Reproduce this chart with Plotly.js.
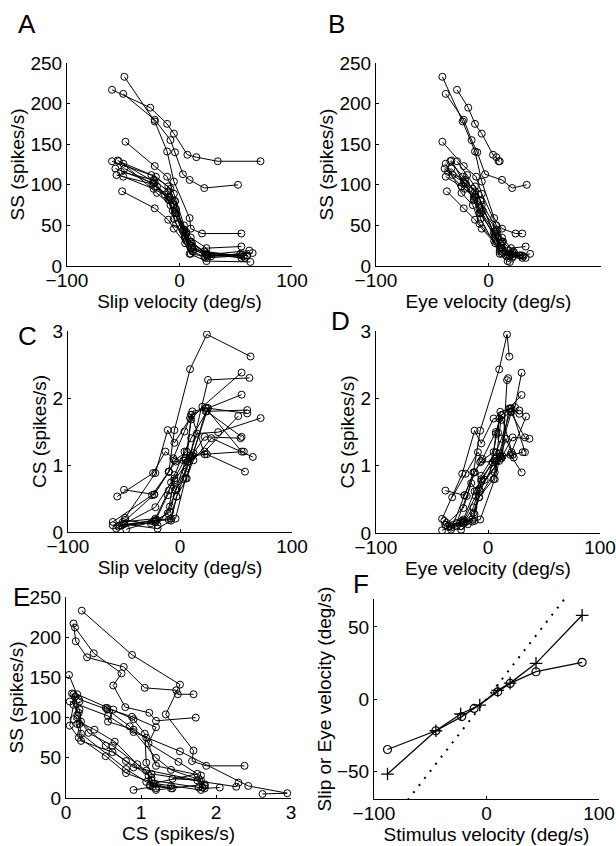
<!DOCTYPE html>
<html>
<head>
<meta charset="utf-8">
<script src="https://cdn.plot.ly/plotly-3.0.1.min.js"></script>
<style>html,body{margin:0;padding:0;background:#fff;}#chart{width:616px;height:846px;}</style>
</head>
<body>
<div id="chart"></div>
<script>
// Per-cell data (one inner list per Purkinje cell)
const slipVel = [
  [-60,-26,-11,-5,7,15,34,72],
  [-50,-22,-8,-4,3,9,22,52],
  [-49,-22,-11,-5,9,10,20,55],
  [-48,-22,-11,-5,4,10,24,55],
  [-60,-25,-10,-4,3,9,25,62],
  [-57,-23,-10,-5,9,24,63],
  [-55,-22,-9,-4,5,11,25,55],
  [-50,-20,-8,-3,6,12,23,60],
  [-51,-22,-10,-5,5,10,22,54],
  [-56,-24,-13,-6,4,10,22,57],
  [-50,-23,-10,-5,6,11,24,60],
  [-54,-21,-8,-3,5,10,23,55],
  [-49,-20,-9,-3,6,11,24,58],
  [-52,-23,-10,-4,5,12,28,65]
];
const eyeVel = [
  [-28,-18,-12,-6,4,7,9,10],
  [-38,-22,-15,-10,-3,12,21,34],
  [-41,-23,-12,-6,5,12,24,30],
  [-41,-22,-11,-6,7,12,20,33],
  [-28,-19,-12,-7,8,13,17,18],
  [-33,-21,-13,-7,10,17,19],
  [-33,-22,-13,-7,6,11,19,30],
  [-38,-24,-14,-8,5,10,21,28],
  [-37,-22,-12,-6,6,12,22,37],
  [-32,-20,-9,-5,7,12,22,31],
  [-38,-21,-12,-6,5,11,20,28],
  [-34,-23,-14,-8,6,12,21,33],
  [-39,-24,-13,-8,5,11,20,30],
  [-36,-21,-12,-7,6,10,16,23]
];
const ssRate = [
  [217,195,175,163,137,134,129,129],
  [212,180,155,140,113,106,96,100],
  [233,178,141,104,59,46,40,40],
  [153,123,110,89,50,35,22,24],
  [129,112,98,80,44,30,14,19],
  [120,102,82,58,15,6,5],
  [130,103,81,65,34,22,12,13],
  [126,90,75,52,31,18,10,13],
  [92,71,57,46,28,15,12,15],
  [112,101,88,68,45,30,18,12],
  [110,95,85,75,40,28,15,13],
  [129,110,95,65,38,22,17,10],
  [120,98,85,70,42,25,14,10],
  [116,106,92,80,36,20,12,16]
];
const csRate = [
  [0.10,0.13,0.28,0.77,1.05,1.47,1.49,1.70],
  [0.12,0.37,0.74,0.63,0.79,1.11,1.20,1.73],
  [0.21,0.88,1.52,1.33,1.70,1.68,1.87,2.38],
  [0.04,0.17,0.55,0.85,1.20,1.40,1.80,1.42],
  [0.15,0.55,0.90,1.05,1.07,1.14,2.27,2.30],
  [0.05,0.56,0.90,1.52,2.43,2.95,2.62],
  [0.08,0.15,0.30,0.62,1.07,1.14,1.85,2.05],
  [0.12,0.05,0.17,0.53,0.80,1.18,1.80,1.82],
  [0.15,0.20,0.62,0.80,1.10,1.12,1.42,1.40],
  [0.53,0.88,1.20,1.10,1.50,1.75,1.16,1.20],
  [0.63,0.56,0.90,1.07,1.20,1.80,1.85,1.77],
  [0.10,0.18,0.20,0.53,0.90,1.75,1.85,1.20],
  [0.18,0.10,0.38,0.65,0.95,1.14,1.16,0.90],
  [0.10,0.17,0.18,0.20,0.80,1.07,1.40,1.12]
];
// Panel F: population averages vs stimulus velocity
const stimEye  = [-88,-45,-22,-11,10,21,44,85];
const meanEye  = [-35,-22,-12.2,-6.5,5,10.8,18.9,25.4];
const stimSlip = [-88,-45,-23,-6,10,21,44,85];
const meanSlip = [-52,-22,-10.4,-4.2,6,11,24.7,58];
const unityX = [-70,70];
const unityY = [-70,70];

const W = 616, H = 846;
const FONT = 'Liberation Sans, Arial, Helvetica, sans-serif';
const FS = 19;
const black = '#000';

function dom(x0,x1,y0,y1){ return {x:[x0/W,x1/W], y:[1-y1/H,1-y0/H]}; }
const P = {
  A: dom(67,292,63,266),
  B: dom(376,601,63,266),
  C: dom(68,292,331,532),
  D: dom(376,600,331,533),
  E: dom(66,291,597,798),
  F: dom(374,599,599,799)
};

const traces = [];
function addCells(xs, ys, xa, ya){
  for(let i=0;i<xs.length;i++){
    traces.push({
      x: xs[i], y: ys[i], xaxis: xa, yaxis: ya,
      type:'scatter', mode:'lines+markers', showlegend:false, hoverinfo:'skip',
      line:{color:black, width:1},
      marker:{symbol:'circle-open', size:7, color:black, line:{width:1, color:black}}
    });
  }
}
addCells(slipVel, ssRate, 'x', 'y');
addCells(eyeVel, ssRate, 'x2', 'y2');
addCells(slipVel, csRate, 'x3', 'y3');
addCells(eyeVel, csRate, 'x4', 'y4');
addCells(csRate, ssRate, 'x5', 'y5');

traces.push({x:unityX, y:unityY, xaxis:'x6', yaxis:'y6', type:'scatter', mode:'lines', showlegend:false,
  line:{color:black, width:2, dash:'2px,7px'}, hoverinfo:'skip'});
traces.push({x:stimEye, y:meanEye, xaxis:'x6', yaxis:'y6', type:'scatter', mode:'lines+markers', showlegend:false,
  line:{color:black, width:1.3}, marker:{symbol:'circle-open', size:8, color:black, line:{width:1.2,color:black}}, hoverinfo:'skip'});
traces.push({x:stimSlip, y:meanSlip, xaxis:'x6', yaxis:'y6', type:'scatter', mode:'lines+markers', showlegend:false,
  line:{color:black, width:1.3}, marker:{symbol:'cross-thin-open', size:9, color:black, line:{width:1.3,color:black}}, hoverinfo:'skip'});

function ax(domain, range, tickvals, title, anchor, isX, tstand){
  return {
    domain: domain, range: range, anchor: anchor,
    tickmode:'array', tickvals: tickvals,
    showline:true, linecolor:black, linewidth:1, mirror:false,
    ticks:'inside', ticklen:3, tickcolor:black,
    showgrid:false, zeroline:false,
    ticklabelstandoff: isX ? -3 : 0,
    tickfont:{family:FONT, size:FS, color:black},
    title:{text:title, font:{family:FONT, size:FS, color:black}, standoff: tstand}
  };
}
const layout = {
  width:W, height:H, margin:{l:0,r:0,t:0,b:0},
  paper_bgcolor:'#fff', plot_bgcolor:'rgba(0,0,0,0)',
  font:{family:FONT, color:black},
  xaxis:  ax(P.A.x, [-100,100], [-100,0,100], 'Slip velocity (deg/s)', 'y', true, 0),
  yaxis:  ax(P.A.y, [0,250], [0,50,100,150,200,250], 'SS (spikes/s)', 'x', false, 0),
  xaxis2: ax(P.B.x, [-100,100], [-100,0,100], 'Eye velocity (deg/s)', 'y2', true, 0),
  yaxis2: ax(P.B.y, [0,250], [0,50,100,150,200,250], 'SS (spikes/s)', 'x2', false, 0),
  xaxis3: ax(P.C.x, [-100,100], [-100,0,100], 'Slip velocity (deg/s)', 'y3', true, 0),
  yaxis3: ax(P.C.y, [0,3], [0,1,2,3], 'CS (spikes/s)', 'x3', false, 0),
  xaxis4: ax(P.D.x, [-100,100], [-100,0,100], 'Eye velocity (deg/s)', 'y4', true, 0),
  yaxis4: ax(P.D.y, [0,3], [0,1,2,3], 'CS (spikes/s)', 'x4', false, 0),
  xaxis5: ax(P.E.x, [0,3], [0,1,2,3], 'CS (spikes/s)', 'y5', true, 3),
  yaxis5: ax(P.E.y, [0,250], [0,50,100,150,200,250], 'SS (spikes/s)', 'x5', false, 0),
  xaxis6: ax(P.F.x, [-100,100], [-100,0,100], 'Stimulus velocity (deg/s)', 'y6', true, 3),
  yaxis6: ax(P.F.y, [-69.3,69.3], [-50,0,50], 'Slip or Eye velocity (deg/s)', 'x6', false, 0),
  annotations: [
    ['A',16,24],['B',326,24],['C',16,336],['D',329,321],['E',11,597],['F',351,584]
  ].map(([t,x,y]) => ({text:t, x:x/W, y:1-y/H, xref:'paper', yref:'paper', xanchor:'left', yanchor:'middle',
    showarrow:false, font:{family:FONT, size:26, color:black}}))
};

Plotly.newPlot('chart', traces, layout, {staticPlot:true, displayModeBar:false});
</script>
</body>
</html>
